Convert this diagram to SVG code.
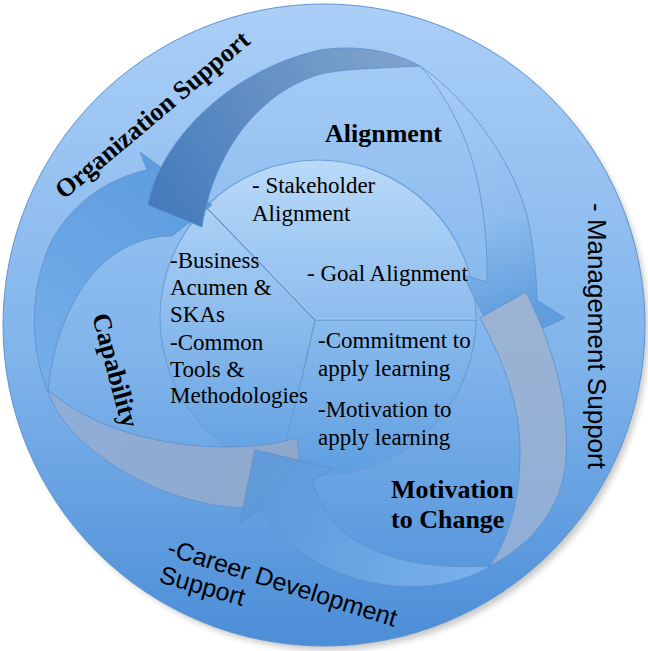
<svg xmlns="http://www.w3.org/2000/svg" width="648" height="651" viewBox="0 0 648 651">
<defs>
  <linearGradient id="gOuter" x1="0" y1="0" x2="0" y2="1">
    <stop offset="0" stop-color="#abcff7"/>
    <stop offset="0.55" stop-color="#80b4eb"/>
    <stop offset="1" stop-color="#4b8dd7"/>
  </linearGradient>
  <linearGradient id="gInner" x1="0" y1="0" x2="0" y2="1">
    <stop offset="0" stop-color="#badaf9"/>
    <stop offset="1" stop-color="#5e9ee1"/>
  </linearGradient>
  <linearGradient id="gA1tail" gradientUnits="userSpaceOnUse" x1="175" y1="216" x2="400" y2="58">
    <stop offset="0" stop-color="#467cbc"/>
    <stop offset="1" stop-color="#7fa2cc"/>
  </linearGradient>
  <linearGradient id="gA1front" gradientUnits="userSpaceOnUse" x1="430" y1="70" x2="510" y2="320">
    <stop offset="0" stop-color="#a9cdf6"/>
    <stop offset="0.6" stop-color="#8fbdee"/>
    <stop offset="1" stop-color="#5b9adb"/>
  </linearGradient>
  <linearGradient id="gA2tail" gradientUnits="userSpaceOnUse" x1="503" y1="300" x2="500" y2="560">
    <stop offset="0" stop-color="#9cb4d2"/>
    <stop offset="1" stop-color="#8eaed8"/>
  </linearGradient>
  <linearGradient id="gA2front" gradientUnits="userSpaceOnUse" x1="490" y1="575" x2="270" y2="470">
    <stop offset="0" stop-color="#7db4ed"/>
    <stop offset="1" stop-color="#5b99db"/>
  </linearGradient>
  <linearGradient id="gA3tail" gradientUnits="userSpaceOnUse" x1="290" y1="460" x2="50" y2="390">
    <stop offset="0" stop-color="#8ea8cc"/>
    <stop offset="1" stop-color="#8eaed8"/>
  </linearGradient>
  <linearGradient id="gA3front" gradientUnits="userSpaceOnUse" x1="45" y1="390" x2="190" y2="180">
    <stop offset="0" stop-color="#74aeea"/>
    <stop offset="1" stop-color="#5597dc"/>
  </linearGradient>
  <filter id="blur" x="-10%" y="-10%" width="120%" height="120%">
    <feGaussianBlur stdDeviation="3"/>
  </filter>
</defs>
<style>
  .edge { stroke: #5b8ecb; stroke-width: 1; stroke-opacity: 0.75; }
  .bold { font-family: "Liberation Serif", "Times New Roman", serif; font-weight: bold; font-size: 26px; fill: #000; }
  .body { font-family: "Liberation Serif", "Times New Roman", serif; font-size: 23px; fill: #000; }
  .sans { font-family: "Liberation Sans", Arial, sans-serif; font-size: 25px; fill: #000; }
</style>

<g id="background">
  <circle cx="328" cy="330" r="320" fill="#000" opacity="0.22" filter="url(#blur)"/>
  <circle cx="324" cy="325" r="321" fill="url(#gOuter)" stroke="#5f93cf" stroke-width="1"/>
</g>

<g id="inner-circle">
  <circle cx="318" cy="318" r="158" fill="url(#gInner)" stroke="#6b9fd8" stroke-width="1.2"/>
  <path d="M207,208 L315,320 M315,320 L478,320 M315,320 Q300,390 282,455" fill="none" stroke="#6c9bd2" stroke-width="1.4"/>
  <path d="M208,207 L316,319 M316,319 L478,319" fill="none" stroke="#cfe3fb" stroke-width="0.8" stroke-opacity="0.6"/>
</g>

<g id="connectors">
  <g id="arrow-capability">
    <path class="edge" d="M297,438 C240,455 120,452 48,390 C60,440 150,505 245,508 L300,462 Z" fill="url(#gA3tail)"/>
    <path class="edge" d="M48,392 C30,350 28,290 52,240 C75,200 110,178 147,170 L140,152 L212,205 L172,236 C130,236 95,262 75,300 C58,330 50,365 48,392 Z" fill="url(#gA3front)" fill-opacity="0.88"/>
  </g>
  <g id="arrow-alignment">
    <path class="edge" d="M148,205 C160,140 230,70 320,50 C360,44 395,52 420,66 C390,68 355,68 325,73 C265,88 215,145 202,227 Z" fill="url(#gA1tail)"/>
    <path class="edge" d="M420,66 C470,100 520,170 530,230 C535,260 537,285 537,300 L565,318 L500,348 L463,275 L487,282 C488,230 480,170 460,128 C448,102 435,82 420,66 Z" fill="url(#gA1front)" fill-opacity="0.9"/>
  </g>
  <g id="arrow-motivation">
    <path class="edge" d="M480,318 L526,292 C550,340 570,400 566,460 C563,500 540,540 490,566 C510,535 520,500 520,450 C520,400 500,355 480,318 Z" fill="url(#gA2tail)"/>
    <path class="edge" d="M490,566 C430,605 310,590 262,510 L240,522 L255,450 L333,468 L313,480 C325,540 390,572 490,566 Z" fill="url(#gA2front)" fill-opacity="0.9"/>
  </g>
</g>

<g id="node-alignment">
  <text class="bold" x="325" y="142">Alignment</text>
  <text class="body" x="252" y="193">- Stakeholder</text>
  <text class="body" x="252" y="221">Alignment</text>
  <text class="body" x="307" y="281">- Goal Alignment</text>
</g>

<g id="node-capability">
  <text class="bold" transform="translate(92,316) rotate(75)">Capability</text>
  <text class="body" x="170" y="268">-Business</text>
  <text class="body" x="170" y="295">Acumen &amp;</text>
  <text class="body" x="170" y="322">SKAs</text>
  <text class="body" x="170" y="350">-Common</text>
  <text class="body" x="170" y="377">Tools &amp;</text>
  <text class="body" x="170" y="403">Methodologies</text>
</g>

<g id="node-motivation">
  <text class="bold" x="391" y="498">Motivation</text>
  <text class="bold" x="391" y="528">to Change</text>
  <text class="body" x="318" y="348">-Commitment to</text>
  <text class="body" x="318" y="376">apply learning</text>
  <text class="body" x="318" y="417">-Motivation to</text>
  <text class="body" x="318" y="445">apply learning</text>
</g>

<g id="node-organization-support">
  <text class="bold" transform="translate(64,200) rotate(-40)">Organization Support</text>
</g>

<g id="node-management-support">
  <text class="sans" transform="translate(588,203) rotate(90)" style="font-size:26px">- Management Support</text>
</g>

<g id="node-career-support">
  <text class="sans" transform="translate(166,555) rotate(17.5)">-Career Development</text>
  <text class="sans" transform="translate(158,582) rotate(16)">Support</text>
</g>
</svg>
